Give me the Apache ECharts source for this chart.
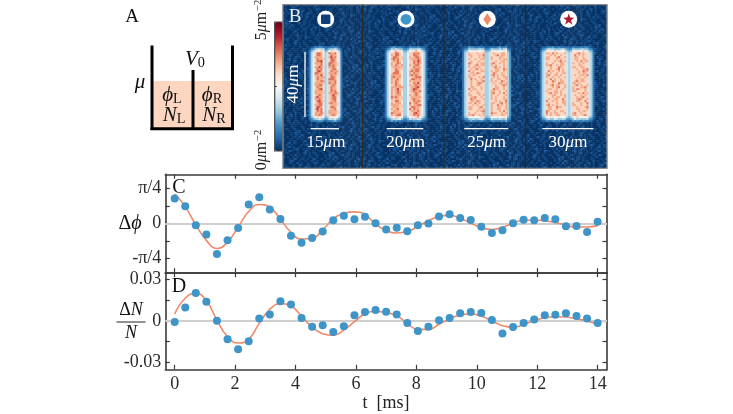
<!DOCTYPE html>
<html><head><meta charset="utf-8">
<style>html,body{margin:0;padding:0;background:#fff}#c{width:733px;height:414px}</style>
<script src="https://cdn.jsdelivr.net/npm/echarts@6/dist/echarts.min.js"></script></head>
<body><div id="c"></div>
<script>
var tMs=[0,.35,.7,1.05,1.4,1.75,2.1,2.45,2.8,3.15,3.5,3.85,4.2,4.55,4.9,5.25,5.6,5.95,6.3,6.65,7,7.35,7.7,8.05,8.4,8.75,9.1,9.45,9.8,10.15,10.5,10.85,11.2,11.55,11.9,12.25,12.6,12.95,13.3,13.65,14];
// Delta phi, in units of pi/4
var phiPoints=[.71,.49,-.05,-.31,-.87,-.48,-.13,.54,.75,.40,.13,-.35,-.55,-.41,-.23,.09,.22,.12,.19,.01,-.17,-.12,-.22,-.05,0,.20,.26,.16,.10,-.09,-.27,-.19,.01,.11,.09,.16,.12,-.08,-.07,-.24,.05];
var phiFit=[.84,.48,-.04,-.48,-.71,-.53,-.10,.34,.54,.46,.12,-.25,-.44,-.42,-.18,.13,.29,.33,.25,-.02,-.20,-.27,-.23,-.08,.08,.20,.23,.15,.01,-.12,-.17,-.11,.01,.09,.10,.08,.03,-.05,-.10,-.10,-.06];
var dnPoints=[-.0007,.0099,.0203,.0140,.0002,-.0133,-.0206,-.0148,.0019,.0048,.0143,.0119,.0022,-.0041,-.0031,-.0080,-.0039,.0041,.0065,.0080,.0068,.0048,-.0015,-.0073,-.0041,.0005,.0022,.0056,.0065,.0058,.0007,-.0090,-.0044,-.0015,.0010,.0041,.0046,.0056,.0036,.0019,-.0015];
var dnFit=[.0051,.0165,.0201,.0148,.0007,-.0114,-.0160,-.0133,-.0017,.0085,.0126,.0109,.0036,-.0046,-.0092,-.0104,-.0065,-.0005,.0053,.0070,.0061,.0039,-.0017,-.0061,-.0061,-.0024,.0015,.0044,.0051,.0036,0,-.0034,-.0046,-.0024,.0002,.0024,.0031,.0029,.0015,0,-.0024];
var xTicks=[0,2,4,6,8,10,12,14];
var phiTicks=[-1,-.5,0,.5,1], phiLabels=[-1,0,1];
var dnTicks=[-.03,-.015,0,.015,.03], dnLabels=[-.03,0,.03];
// Density images, 2px cells. Hex level/3 = atoms per um^2. '.' = background grain
var grainRows=[
"0100101200110100210010011020100010110012",
"1001001100201010012100100100110100010010",
"0012100101100012001010011001001100201001",
"1100010021001100100120110001010001001100",
"0120101000102011001001002110010110100001",
"1001012010010001100211001010010001201100",
"0011000101200102010001120010110010000110",
"2100100110011000101100100100011021001000",
"0101100001001201011000100112001000110100",
"1000120110100011000102010010100110001021",
"0110010001011021000110010100201001010010"];
var panelProfiles=[
".............257abbb956abbb962..........",
"...........257aabba9557aabbba752........",
".........25699999999556999999995 3......".replace(" ",""),
".......256999999999965699999999652......"];
var coreShift=[-.6,-.6,.1,.1];
var rowMask={21:.22,22:.5,23:.8,56:.8,57:.5,58:.22}, coreFirstRow=24, coreLastRow=55;
var scaleLabels=["15","20","25","30"];
var grainGain=.6;

function panelData(p){
  var d=[],P=panelProfiles[p];
  for(var r=0;r<82;r++){
    var n=grainRows[(r+p*3)%grainRows.length];
    var m=(r>=coreFirstRow&&r<=coreLastRow)?1:(rowMask[r]||0);
    for(var c=0;c<40;c++){
      var g=+n[(c+r*13+p*7)%n.length], ch=P[c], lv=g*grainGain;
      if(ch!==undefined&&ch!=='.'&&m>0){
        var pv=parseInt(ch,16);
        if(pv>=9) pv+=g*1.2+coreShift[p];
        lv=lv+(pv-lv)*m;
      }
      d.push([c,r,lv/3]);
    }
  }
  return d;
}
var SERIF='"Liberation Serif",serif', INK='#2b2b2b', AX='#3a3a3a';
var cols=[],rowsN=[];for(var i=0;i<40;i++)cols.push(i);for(i=0;i<82;i++)rowsN.push(i);
var starts=[[283,79.5],[362.5,81.5],[444,81.7],[525.7,81.3]];
var grids=[],xA=[],yA=[],series=[];
starts.forEach(function(s,p){
  grids.push({left:s[0],top:4.7,width:s[1],height:163.6});
  xA.push({type:'category',gridIndex:p,data:cols,show:false});
  yA.push({type:'category',gridIndex:p,data:rowsN,inverse:true,show:false});
  series.push({type:'heatmap',xAxisIndex:p,yAxisIndex:p,data:panelData(p),silent:true,progressive:0,itemStyle:{borderWidth:0}});
});
function lineAxes(g,ymin,ymax,yT,yL,fmt,bottomLabels){
  var line={show:true,onZero:false,lineStyle:{color:AX,width:1.6}};
  var tick=function(v){return {show:true,inside:true,length:4.5,customValues:v,lineStyle:{color:AX,width:1.2}};};
  var lab={fontFamily:SERIF,fontSize:18,color:INK};
  xA.push({type:'value',gridIndex:g,min:-.31,max:14.31,position:'bottom',axisLine:line,axisTick:tick(xTicks),splitLine:{show:false},
    axisLabel:bottomLabels?Object.assign({customValues:xTicks,margin:6},lab):{show:false}});
  xA.push({type:'value',gridIndex:g,min:-.31,max:14.31,position:'top',axisLine:line,axisTick:tick(xTicks),splitLine:{show:false},axisLabel:{show:false}});
  yA.push({type:'value',gridIndex:g,min:ymin,max:ymax,position:'left',axisLine:line,axisTick:tick(yT),splitLine:{show:false},
    axisLabel:Object.assign({customValues:yL,formatter:fmt,margin:4},lab)});
  yA.push({type:'value',gridIndex:g,min:ymin,max:ymax,position:'right',axisLine:line,axisTick:tick(yT),splitLine:{show:false},axisLabel:{show:false}});
}
function pairs(y){return tMs.map(function(t,i){return [t,y[i]];});}
function addPlot(xi,yi,pts,fit){
  series.push({type:'line',xAxisIndex:xi,yAxisIndex:yi,data:pairs(fit),smooth:.5,showSymbol:false,silent:true,z:3,
    lineStyle:{color:'#ee8a6a',width:1.6},
    markLine:{silent:true,z:1,symbol:'none',label:{show:false},lineStyle:{color:'#cfcfcf',width:2,type:'solid'},data:[{yAxis:0}],animation:false}});
  series.push({type:'scatter',xAxisIndex:xi,yAxisIndex:yi,data:pairs(pts),symbolSize:8,silent:true,z:6,itemStyle:{color:'#3f94c8',opacity:1}});
}
grids.push({left:165.3,top:174.3,width:441.7,height:98.4});
lineAxes(4,-1.4,1.4,phiTicks,phiLabels,function(v){return v===0?'0':(v>0?'π/4':'-π/4');},false);
addPlot(4,4,phiPoints,phiFit);
grids.push({left:165.3,top:272.7,width:441.7,height:96.6});
lineAxes(5,-.0351,.0351,dnTicks,dnLabels,function(v){return v===0?'0':v.toFixed(2);},true);
addPlot(6,6,dnPoints,dnFit);

function T(x,y,text,size,color,extra){
  var o={type:'text',x:x,y:y,z:50,silent:true,style:{text:text,fontFamily:SERIF,fontSize:size,fill:color||'#111',align:'center',verticalAlign:'middle'}};
  if(extra&&extra.rich)o.style.rich=extra.rich;
  if(extra&&extra.rotation)o.rotation=extra.rotation;
  return o;
}
function L(x1,y1,x2,y2,c,w){return {type:'line',z:40,silent:true,shape:{x1:x1,y1:y1,x2:x2,y2:y2},style:{stroke:c,lineWidth:w}};}
var mathRich=function(sz,col){return {
  i:{fontFamily:SERIF,fontStyle:'italic',fontSize:sz,color:col||'#111'},
  r:{fontFamily:SERIF,fontSize:sz,color:col||'#111'},
  s:{fontFamily:SERIF,fontSize:sz*.68,verticalAlign:'bottom',color:col||'#111',padding:[8,0,0,0]},
  u:{fontFamily:SERIF,fontSize:sz*.66,verticalAlign:'top',color:col||'#111',padding:[0,0,7,1]}
};};
var W='#ffffff';
var gfx=[
  {type:'rect',z:20,silent:true,shape:{x:152,y:81,width:81,height:48},style:{fill:'#fcd6c0'}},
  L(152,45.5,152,130,'#000',3),L(232.5,45.5,232.5,130,'#000',3),L(193,70,193,130,'#000',3),L(150.5,128.7,234,128.7,'#000',3),
  T(132,17,'A',19),
  T(195,59,'{i|V}{s|0}',21,'#111',{rich:mathRich(21)}),
  T(140,82,'{i|μ}',21,'#111',{rich:mathRich(21)}),
  T(172,95,'{i|ϕ}{s|L}',21,'#111',{rich:mathRich(21)}),
  T(212,95,'{i|ϕ}{s|R}',21,'#111',{rich:mathRich(21)}),
  T(174,115,'{i|N}{s|L}',21,'#111',{rich:mathRich(21)}),
  T(214,115,'{i|N}{s|R}',21,'#111',{rich:mathRich(21)}),
  {type:'rect',z:40,silent:true,shape:{x:274.7,y:22,width:8.3,height:129},style:{fill:'none',stroke:'#444',lineWidth:1.2}},
  L(275,86.5,277,86.5,'#444',1),
  T(261.5,20,'5{i|μ}m{u|−2}',16,'#222',{rich:mathRich(16,'#222'),rotation:Math.PI/2}),
  T(261.5,150,'0{i|μ}m{u|−2}',16,'#222',{rich:mathRich(16,'#222'),rotation:Math.PI/2}),
  {type:'rect',z:40,silent:true,shape:{x:283,y:4.7,width:324,height:163.6},style:{fill:'none',stroke:'#8a8a8a',lineWidth:1.2}},
  L(362.5,4.7,362.5,168.3,'#2a2a2a',1.2),L(444,4.7,444,168.3,'#2a2a2a',1.2),L(525.7,4.7,525.7,168.3,'#2a2a2a',1.2),
  T(295,17.3,'B',19,'#e8eef5'),
  L(305,51.7,305,117,W,1.3),
  T(293.5,84,'40{i|μ}m',17,W,{rich:mathRich(17,W),rotation:Math.PI/2}),
  L(310.7,128.7,339,128.7,W,1.3),L(386.7,128.7,423.3,128.7,W,1.3),L(464.3,128.7,508.3,128.7,W,1.3),L(542.3,128.7,593.3,128.7,W,1.3),
  T(326,143,scaleLabels[0]+'{i|μ}m',17,W,{rich:mathRich(17,W)}),
  T(405.7,143,scaleLabels[1]+'{i|μ}m',17,W,{rich:mathRich(17,W)}),
  T(486.7,143,scaleLabels[2]+'{i|μ}m',17,W,{rich:mathRich(17,W)}),
  T(568,143,scaleLabels[3]+'{i|μ}m',17,W,{rich:mathRich(17,W)}),
  {type:'circle',z:41,silent:true,shape:{cx:325.7,cy:19.3,r:8.5},style:{fill:W}},
  {type:'rect',z:42,silent:true,shape:{x:321,y:14.6,width:9.4,height:9.4,r:1.2},style:{fill:'#0f3f78'}},
  {type:'circle',z:41,silent:true,shape:{cx:406,cy:19.3,r:8.5},style:{fill:W}},
  {type:'circle',z:42,silent:true,shape:{cx:406,cy:19.3,r:5.4},style:{fill:'#3f94c8'}},
  {type:'circle',z:41,silent:true,shape:{cx:487.3,cy:19.3,r:8.5},style:{fill:W}},
  {type:'polygon',z:42,silent:true,shape:{points:[[487.3,13.3],[491.3,19.3],[487.3,25.3],[483.3,19.3]]},style:{fill:'#ee8a6a'}},
  {type:'circle',z:41,silent:true,shape:{cx:568.7,cy:19.3,r:8.5},style:{fill:W}},
  {type:'polygon',z:42,silent:true,shape:{points:[[568.7,13.6],[570.1,17.6],[574.3,17.7],[571,20.3],[572.2,24.4],[568.7,22],[565.2,24.4],[566.4,20.3],[563.1,17.7],[567.3,17.6]]},style:{fill:'#b2182b'}},
  T(179,188,'C',20),T(179,287,'D',20),
  T(130,223.7,'Δ{i|ϕ}',20,'#111',{rich:mathRich(20)}),
  T(131,310,'Δ{i|N}',18,'#111',{rich:mathRich(18)}),
  L(116.5,322,145.5,322,'#222',1),
  T(131,333,'{i|N}',18,'#111',{rich:mathRich(18)}),
  T(386,403,'t  [ms]',18,'#222')
];
var chart=echarts.init(document.getElementById('c'),null,{renderer:'canvas'});
chart.setOption({
  animation:false,backgroundColor:'#fff',
  visualMap:{type:'continuous',min:0,max:5,show:true,left:274.7,top:22,itemWidth:8.3,itemHeight:129,padding:0,calculable:false,hoverLink:false,seriesIndex:[0,1,2,3],
    text:['',''],textGap:0,
    inRange:{color:['#053061','#2166ac','#4393c3','#92c5de','#d1e5f0','#f7f7f7','#fddbc7','#f4a582','#d6604d','#b2182b','#67001f']}},
  grid:grids,xAxis:xA,yAxis:yA,series:series,graphic:gfx
});
</script></body></html>
